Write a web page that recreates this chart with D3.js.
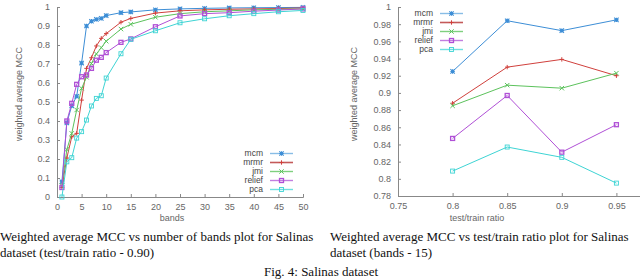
<!DOCTYPE html>
<html>
<head>
<meta charset="utf-8">
<script src="https://cdn.jsdelivr.net/npm/d3@7"></script>
<style>
  body { margin: 0; background: #fff; }
  svg { display: block; }
  .tick text { font-family: "Liberation Sans", Arial, sans-serif; font-size: 9px; fill: #666; }
  .lab { font-family: "Liberation Sans", Arial, sans-serif; font-size: 9px; fill: #666; }
  .leg { font-family: "Liberation Sans", Arial, sans-serif; font-size: 8.5px; fill: #444; }
  .cap { font-family: "Liberation Serif", "Times New Roman", serif; font-size: 13px; fill: #111; }
</style>
</head>
<body>
<svg id="chart" width="640" height="280"></svg>
<script>
// left panel: MCC vs number of bands (test/train ratio 0.90)
var bands = [1, 2, 3, 4, 5, 6, 7, 8, 9, 10, 13, 15, 20, 25, 30, 35, 40, 45, 50];
var bandsMcm    = [0.08, 0.39, 0.48, 0.53, 0.705, 0.90, 0.925, 0.935, 0.94, 0.955, 0.97, 0.974, 0.985, 0.99, 0.993, 0.995, 0.996, 0.997, 0.998];
var bandsMrmr   = [0.05, 0.205, 0.317, 0.335, 0.51, 0.677, 0.733, 0.795, 0.835, 0.86, 0.92, 0.94, 0.968, 0.98, 0.985, 0.988, 0.99, 0.992, 0.995];
var bandsJmi    = [0.06, 0.25, 0.335, 0.458, 0.572, 0.63, 0.703, 0.753, 0.786, 0.82, 0.884, 0.909, 0.946, 0.965, 0.975, 0.98, 0.985, 0.988, 0.99];
var bandsRelief = [0.05, 0.40, 0.493, 0.593, 0.633, 0.642, 0.677, 0.72, 0.735, 0.76, 0.814, 0.832, 0.896, 0.953, 0.965, 0.97, 0.978, 0.984, 0.99];
var bandsPca    = [0.0, 0.185, 0.207, 0.31, 0.344, 0.405, 0.479, 0.519, 0.533, 0.626, 0.754, 0.83, 0.875, 0.917, 0.938, 0.954, 0.965, 0.975, 0.982];
var bandsTicks = [0, 5, 10, 15, 20, 25, 30, 35, 40, 45, 50];
var mccTicksL = [0, 0.1, 0.2, 0.3, 0.4, 0.5, 0.6, 0.7, 0.8, 0.9, 1];

// right panel: MCC vs test/train ratio (bands 15)
var ratios = [0.8, 0.85, 0.9, 0.95];
var ratioMcm    = [0.925, 0.984, 0.9725, 0.985];
var ratioMrmr   = [0.888, 0.930, 0.939, 0.920];
var ratioJmi    = [0.885, 0.909, 0.9055, 0.923];
var ratioRelief = [0.847, 0.897, 0.831, 0.863];
var ratioPca    = [0.809, 0.837, 0.825, 0.795];
var ratioTicks = [0.75, 0.8, 0.85, 0.9, 0.95];
var mccTicksR = [0.78, 0.8, 0.82, 0.84, 0.86, 0.88, 0.9, 0.92, 0.94, 0.96, 0.98, 1];

var names = ["mcm", "mrmr", "jmi", "relief", "pca"];
var colors = ["#3d8ed6", "#d0403c", "#5cc25c", "#b050d6", "#3ed4d4"];
var legendColors = ["#88bde6", "#c45a5a", "#7fd07f", "#c27ee0", "#6fe0e0"];

var svg = d3.select("#chart");

function marker(g, type, x, y, c) {
  var s = 2.2;
  if (type === 0) {
    g.append("path").attr("d", "M" + (x - s) + "," + y + "h" + 2 * s + "M" + x + "," + (y - s) + "v" + 2 * s +
      "M" + (x - s) + "," + (y - s) + "l" + 2 * s + "," + 2 * s + "M" + (x - s) + "," + (y + s) + "l" + 2 * s + "," + (-2 * s))
      .attr("stroke", c).attr("stroke-width", 1.1).attr("fill", "none");
    g.append("rect").attr("x", x - 1.2).attr("y", y - 1.2).attr("width", 2.4).attr("height", 2.4).attr("fill", c);
  } else if (type === 1) {
    g.append("path").attr("d", "M" + (x - s) + "," + y + "h" + 2 * s + "M" + x + "," + (y - s) + "v" + 2 * s)
      .attr("stroke", c).attr("stroke-width", 1).attr("fill", "none");
  } else if (type === 2) {
    g.append("path").attr("d", "M" + (x - s) + "," + (y - s) + "l" + 2 * s + "," + 2 * s + "M" + (x - s) + "," + (y + s) + "l" + 2 * s + "," + (-2 * s))
      .attr("stroke", c).attr("stroke-width", 1).attr("fill", "none");
  } else {
    g.append("rect").attr("x", x - 2).attr("y", y - 2).attr("width", 4).attr("height", 4)
      .attr("fill", "none").attr("stroke", c).attr("stroke-width", type === 3 ? 1.3 : 0.9);
  }
}

function panel(cfg) {
  var x = d3.scaleLinear().domain(cfg.xDomain).range(cfg.xRange);
  var y = d3.scaleLinear().domain(cfg.yDomain).range([cfg.bottom, cfg.top]);
  var g = svg.append("g");

  var clipId = "clip" + cfg.id;
  svg.append("clipPath").attr("id", clipId).append("rect")
    .attr("x", 0).attr("y", 0).attr("width", 640).attr("height", 280);

  // axes (gnuplot-style, ticks pointing inward)
  var ya = g.append("g").attr("transform", "translate(" + cfg.xRange[0] + ",0)")
    .call(d3.axisLeft(y).tickValues(cfg.yTicks).tickSize(-3).tickPadding(7).tickFormat(d3.format("")));
  var xa = g.append("g").attr("transform", "translate(0," + cfg.bottom + ")")
    .call(d3.axisBottom(x).tickValues(cfg.xTicks).tickSize(-3).tickPadding(5).tickFormat(d3.format("")));
  [ya, xa].forEach(function (a) {
    a.select(".domain").attr("stroke", "#888").attr("stroke-width", 1);
    a.selectAll(".tick line").attr("stroke", "#888");
  });
  xa.selectAll(".tick text").attr("dy", "0.9em");

  g.append("text").attr("class", "lab").attr("text-anchor", "middle")
    .attr("transform", "translate(" + cfg.yLabelX + "," + cfg.yLabelY + ") rotate(-90)")
    .text("weighted average MCC");
  g.append("text").attr("class", "lab").attr("text-anchor", "middle")
    .attr("x", cfg.xLabelX).attr("y", cfg.xLabelY).text(cfg.xLabel);

  var line = d3.line().x(function (d) { return x(d[0]); }).y(function (d) { return y(d[1]); });
  var plot = g.append("g").attr("clip-path", "url(#" + clipId + ")");
  cfg.series.forEach(function (vals, i) {
    var pts = cfg.xs.map(function (v, k) { return [v, vals[k]]; });
    plot.append("path").datum(pts).attr("d", line)
      .attr("fill", "none").attr("stroke", colors[i]).attr("stroke-width", 1);
    pts.forEach(function (p) { marker(plot, i, x(p[0]), y(p[1]), colors[i]); });
  });

  // legend
  var lg = g.append("g");
  names.forEach(function (n, i) {
    var ly = cfg.legY + i * 9;
    lg.append("text").attr("class", "leg").attr("text-anchor", "end")
      .attr("x", cfg.legX).attr("y", ly).attr("dy", "0.33em").text(n);
    lg.append("line").attr("x1", cfg.legX + 7).attr("x2", cfg.legX + 30).attr("y1", ly).attr("y2", ly)
      .attr("stroke", legendColors[i]).attr("stroke-width", i === 1 ? 1.6 : 1.4);
    marker(lg, i, cfg.legX + 18.5, ly, colors[i]);
  });
}

panel({
  id: 1, xs: bands,
  series: [bandsMcm, bandsMrmr, bandsJmi, bandsRelief, bandsPca],
  xDomain: [0, 50], xRange: [57, 303], yDomain: [0, 1], top: 7, bottom: 197,
  xTicks: bandsTicks, yTicks: mccTicksL,
  yLabelX: 22, yLabelY: 94, xLabel: "bands", xLabelX: 172, xLabelY: 221,
  legX: 263, legY: 153.5
});

panel({
  id: 2, xs: ratios,
  series: [ratioMcm, ratioMrmr, ratioJmi, ratioRelief, ratioPca],
  xDomain: [0.75, 1.0], xRange: [398, 671], yDomain: [0.78, 1], top: 7, bottom: 196,
  xTicks: ratioTicks, yTicks: mccTicksR,
  yLabelX: 357, yLabelY: 94, xLabel: "test/train ratio", xLabelX: 477, xLabelY: 221,
  legX: 433, legY: 13.5
});

// captions
var caps = [
  { x: 0, y: 241, t: "Weighted average MCC vs number of bands plot for Salinas" },
  { x: 0, y: 257, t: "dataset (test/train ratio - 0.90)" },
  { x: 330, y: 241, t: "Weighted average MCC vs test/train ratio plot for Salinas" },
  { x: 330, y: 257, t: "dataset (bands - 15)" }
];
caps.forEach(function (c) {
  svg.append("text").attr("class", "cap").attr("x", c.x).attr("y", c.y).text(c.t);
});
svg.append("text").attr("class", "cap").attr("x", 321).attr("y", 276)
  .attr("text-anchor", "middle").text("Fig. 4: Salinas dataset");
</script>
</body>
</html>
